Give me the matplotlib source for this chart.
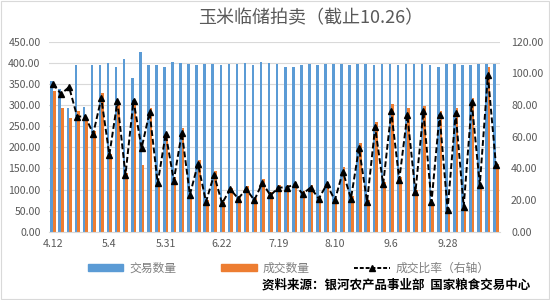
import matplotlib.pyplot as plt
import matplotlib.lines as mlines
import matplotlib.patches as mpatches
import numpy as np

plt.rcParams['font.family'] = ['Noto Sans CJK SC', 'DejaVu Sans']

# ---- data ----
tick_labels = ['4.12', '5.4', '5.31', '6.22', '7.19', '8.10', '9.6', '9.28']

# 交易数量 (left axis)
traded = [358, 337, 294, 395, 295, 395, 394, 399, 389, 409, 364, 425, 395, 396, 391,
          403, 400, 397, 394, 397, 397, 394, 397, 397, 400, 394, 403, 400, 397, 389,
          389, 394, 397, 394, 397, 397, 397, 394, 397, 397, 394, 397, 397, 394, 397,
          397, 397, 394, 391, 397, 397, 394, 394, 397, 397, 397]

# 成交数量 (left axis)
dealt = [333, 292, 269, 286, 268, 238, 329, 185, 308, 140, 302, 159, 294, 115, 235,
         130, 245, 85, 169, 76, 143, 71, 105, 83, 108, 80, 126, 94, 111, 110,
         118, 96, 110, 84, 118, 78, 153, 84, 210, 76, 260, 118, 302, 129, 293,
         98, 298, 68, 286, 50, 294, 60, 317, 110, 391, 160]

# 成交比率 (right axis, %)
ratio = [93.5, 87, 91.4, 72.8, 72.8, 62, 84.4, 48.6, 82.3, 36, 82.9, 52.8, 75.6, 30.7, 61.9,
         32.4, 62.7, 23.4, 43, 19, 36, 18, 27, 21, 27, 20, 31, 23, 28, 28,
         30, 24, 28, 21, 30, 20, 38, 21, 53, 19, 66, 30, 76, 33, 74,
         25, 76, 18.7, 73.9, 13.9, 75, 16, 81.7, 29.7, 99, 42.3]

x = np.arange(len(traded))
tick_step = 7

blue = '#5B9BD5'
orange = '#ED7D31'
gray = '#595959'

fig = plt.figure(figsize=(5.5, 3.0), dpi=100)
ax = fig.add_axes([0.089, 0.227, 0.82, 0.634])
ax2 = ax.twinx()

w = 0.32
ax.bar(x - w, traded, width=w, align='edge', color=blue, zorder=2)
ax.bar(x, dealt, width=w, align='edge', color=orange, zorder=2)
ax2.plot(x, ratio, color='black', linestyle=(0, (3, 1.5)), linewidth=1.4,
         marker='^', markersize=5, zorder=3)

ax.set_xlim(-0.5, len(traded) - 0.5)
ax.set_ylim(0, 450)
ax.set_yticks(np.arange(0, 451, 50))
ax.set_yticklabels([f'{v:.2f}' for v in np.arange(0, 451, 50)])
ax2.set_ylim(0, 120)
ax2.set_yticks(np.arange(0, 121, 20))
ax2.set_yticklabels([f'{v:.2f}' for v in np.arange(0, 121, 20)])

ax.set_xticks(x[::tick_step])
ax.set_xticklabels(tick_labels)

ax.grid(axis='y', color='#D9D9D9', linewidth=0.8, zorder=0)
ax.set_axisbelow(True)
for a in (ax, ax2):
    for s in a.spines.values():
        s.set_visible(False)
    a.tick_params(length=0, labelsize=7.6, colors=gray)
ax.spines['bottom'].set_visible(True)
ax.spines['bottom'].set_color('#D9D9D9')
ax.tick_params(axis='y', pad=6)
ax2.tick_params(axis='y', pad=8)
ax.tick_params(axis='x', pad=5)

fig.text(0.565, 0.94, '玉米临储拍卖（截止10.26）', ha='center', va='center',
         fontsize=13, color=gray)

handles = [mpatches.Patch(color=blue, label='交易数量'),
           mpatches.Patch(color=orange, label='成交数量'),
           mlines.Line2D([], [], color='black', linestyle=(0, (2, 1)), linewidth=1.4,
                         marker='^', markersize=5, label='成交比率（右轴）')]
leg = fig.legend(handles=handles, loc='center', bbox_to_anchor=(0.525, 0.105), ncol=3,
                 frameon=False, fontsize=8.5, handlelength=3.0, handleheight=0.5,
                 handletextpad=0.5, columnspacing=3.8, labelcolor='#7F7F7F')

fig.text(0.965, 0.05, '资料来源：银河农产品事业部  国家粮食交易中心', ha='right',
         va='center', fontsize=9, fontweight='bold', color='black')

fig.patches.append(mpatches.Rectangle((0.002, 0.003), 0.996, 0.994, transform=fig.transFigure,
                                      fill=False, edgecolor='#D9D9D9', linewidth=0.8))

fig.savefig('out.png', dpi=100)
